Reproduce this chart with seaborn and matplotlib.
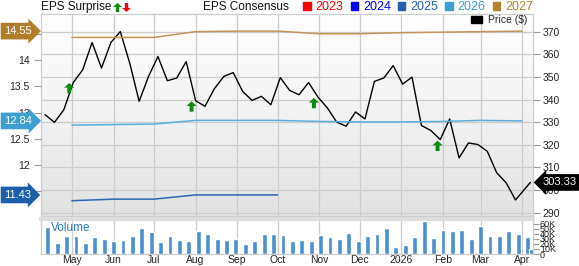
import numpy as np
import pandas as pd
import matplotlib
matplotlib.use("Agg")
import matplotlib.pyplot as plt
from matplotlib.path import Path
from matplotlib.lines import Line2D
from matplotlib.patches import Patch
from matplotlib.colors import LinearSegmentedColormap
import seaborn as sns

# ---------------- data ----------------
price_dates = list(pd.date_range("2025-04-11", periods=51, freq="7D")) + [pd.Timestamp("2026-04-07")]
prices = [333.3, 329.9, 335.5, 347.5, 353.1, 365.2, 353.9, 365.2, 370.0, 356.1,
          339.2, 350.2, 359.0, 348.3, 349.5, 356.8, 339.5, 337.0, 344.8, 350.2,
          351.9, 343.6, 339.6, 341.4, 337.7, 349.7, 344.0, 342.1, 347.5, 341.1,
          336.3, 330.0, 328.2, 334.5, 331.4, 348.0, 349.5, 355.0, 346.8, 349.9,
          328.5, 326.3, 322.3, 331.4, 314.2, 320.8, 320.1, 317.1, 307.6, 303.2,
          295.6, 303.33]

volume_dates = list(pd.date_range("2025-04-13", periods=52, freq="7D")) + [pd.Timestamp("2026-04-08")]
volumes_k = [53.6, 22.4, 36.4, 35.0, 21.0, 33.6, 29.0, 25.0, 27.0, 36.4, 51.6, 43.6,
             24.4, 35.6, 27.6, 25.6, 44.4, 39.0, 30.4, 27.0, 30.4, 20.4, 26.4, 40.4,
             39.0, 37.0, 26.4, 28.4, 26.4, 38.4, 33.0, 29.6, 41.6, 25.6, 35.6, 39.0,
             51.0, 13.0, 17.0, 34.4, 65.6, 32.4, 47.0,
             45.6, 47.6, 30.4, 55.6, 35.0, 35.0, 45.0, 40.4, 34.4, 10.4]

eps_dates = pd.date_range("2025-05-01", periods=12, freq="MS")
eps_2027 = [14.43, 14.43, 14.43, 14.54, 14.55, 14.55, 14.50, 14.50, 14.52, 14.53, 14.54, 14.55]
eps_2026 = [12.76, 12.77, 12.78, 12.85, 12.85, 12.85, 12.83, 12.82, 12.82, 12.83, 12.85, 12.84]
eps_2025 = [11.32, 11.35, 11.35, 11.43, 11.43, 11.43]

surprise_dates = pd.to_datetime(["2025-04-29", "2025-07-29", "2025-10-28", "2026-01-28"])
surprise_y = [345.0, 336.9, 338.4, 319.5]

month_ticks = pd.date_range("2025-05-01", periods=12, freq="MS")
month_labels = ["May", "Jun", "Jul", "Aug", "Sep", "Oct", "Nov", "Dec", "2026", "Feb", "Mar", "Apr"]

price_ticks = [290, 300, 310, 320, 330, 340, 350, 360, 370]
eps_ticks = [11.5, 12, 12.5, 13, 13.5, 14, 14.5]
eps_tick_labels = ["", "12", "12.5", "13", "13.5", "14", ""]
vol_ticks = [0, 10, 20, 30, 40, 50, 60]

year_labels = ["2023", "2024", "2025", "2026", "2027"]
year_colors = ["#ff0000", "#0000ff", "#1f5fae", "#3aa0d2", "#b5832f"]

# ---------------- style ----------------
sns.set_theme(style="white")
plt.rcParams["font.family"] = ["Liberation Sans", "DejaVu Sans"]

W, H = 579, 266
fig = plt.figure(figsize=(W / 100, H / 100), dpi=100)

def fx(px):
    return px / W

def fy(py):
    return 1 - py / H

L, R = 41, 533
ax = fig.add_axes([fx(L), fy(216), fx(R - L), (216 - 14) / H])
axv = fig.add_axes([fx(L), fy(254), fx(R - L), (254 - 219) / H], sharex=ax)
ax_eps = ax.twinx()

xmin, xmax = pd.Timestamp("2025-04-08"), pd.Timestamp("2026-04-09")
grid_c = "#cccccc"

# gradient background
cmap = LinearSegmentedColormap.from_list("bg", ["#e2e2e2", "#f2f2f2", "#ffffff"])
grad = np.linspace(0, 1, 256).reshape(-1, 1)
ax.imshow(grad, extent=[0, 1, 1, 0], transform=ax.transAxes, aspect="auto",
          cmap=cmap, zorder=0, interpolation="bicubic")

# price line
sns.lineplot(x=price_dates, y=prices, ax=ax, color="black", linewidth=1.0, zorder=5, legend=False)

# surprise arrows
arrow_verts = [(-1, 0.1), (0, 1), (1, 0.1), (0.38, 0.1), (0.38, -1), (-0.38, -1), (-0.38, 0.1), (-1, 0.1)]
arrow_up = Path(arrow_verts, [Path.MOVETO] + [Path.LINETO] * 6 + [Path.CLOSEPOLY])
arrow_down = Path([(x, -y) for x, y in arrow_verts], [Path.MOVETO] + [Path.LINETO] * 6 + [Path.CLOSEPOLY])
sns.scatterplot(x=surprise_dates, y=surprise_y, ax=ax, marker=arrow_up, s=55,
                color="#0b8a0b", edgecolor="none", zorder=6, legend=False)

ax.set_xlim(xmin, xmax)
ax.set_ylim(288.5, 377.8)
ax.yaxis.tick_right()
ax.set_yticks(price_ticks)
ax.set_yticklabels([str(t) for t in price_ticks])
ax.set_xticks(month_ticks)
ax.tick_params(axis="x", labelbottom=False, length=0)
ax.tick_params(axis="y", which="both", right=True, left=False, length=5, width=0.8,
               color="#999999", labelsize=7.5, labelcolor="#222222", pad=2)
ax.grid(True, color=grid_c, linewidth=0.9)
ax.set_axisbelow(True)
for s in ax.spines.values():
    s.set_color(grid_c)
    s.set_linewidth(0.9)
ax.set_xlabel("")
ax.set_ylabel("")

# EPS consensus lines
sns.lineplot(x=eps_dates, y=eps_2027, ax=ax_eps, color="#c0955c", linewidth=1.1, legend=False)
sns.lineplot(x=eps_dates, y=eps_2026, ax=ax_eps, color="#5aaedb", linewidth=1.1, legend=False)
sns.lineplot(x=eps_dates[:len(eps_2025)], y=eps_2025, ax=ax_eps, color="#2a66b0", linewidth=1.1, legend=False)
ax_eps.set_ylim(11.029, 14.876)
ax_eps.yaxis.tick_left()
ax_eps.set_yticks(eps_ticks)
ax_eps.set_yticklabels(eps_tick_labels)
ax_eps.tick_params(axis="y", left=True, right=False, length=5, width=0.8,
                   color="#999999", labelsize=7.5, labelcolor="#222222", pad=3)
ax_eps.set_ylabel("")
for s in ax_eps.spines.values():
    s.set_visible(False)

# left value tags
for vals, col in [(eps_2027, "#b07d2b"), (eps_2026, "#3d9fd0"), (eps_2025, "#1b5faa")]:
    ax_eps.annotate(f"{vals[-1]:.2f}", xy=(fx(4), vals[-1]), xycoords=("figure fraction", "data"),
                    ha="left", va="center", color="white", fontsize=8,
                    bbox=dict(boxstyle="rarrow,pad=0.3", fc=col, ec="none"),
                    annotation_clip=False, zorder=20)

# right price tag
ax.annotate(f"{prices[-1]:.2f}", xy=(fx(543), prices[-1]), xycoords=("figure fraction", "data"),
            ha="left", va="center", color="white", fontsize=8,
            bbox=dict(boxstyle="larrow,pad=0.3", fc="black", ec="none"),
            annotation_clip=False, zorder=20)

# price legend
ax.legend(handles=[Patch(facecolor="black", edgecolor="black")], labels=["Price ($)"],
          loc="upper right", bbox_to_anchor=(fx(527), fy(15)), bbox_transform=fig.transFigure,
          frameon=False, fontsize=7.5, handlelength=1.1, handleheight=0.6, handletextpad=0.5,
          borderaxespad=0, borderpad=0)

# volume
axv.bar(volume_dates, volumes_k, width=3.6, color="#4a8fd0", zorder=3)
axv.set_ylim(0, 69)
axv.set_yticks(vol_ticks)
axv.set_yticklabels(["0"] + [f"{t}K" for t in vol_ticks[1:]])
axv.yaxis.tick_right()
axv.tick_params(axis="y", right=True, left=False, length=4, width=0.8, color="#999999",
                labelsize=6.5, labelcolor="#222222", pad=1)
axv.set_xticks(month_ticks)
axv.set_xticklabels(month_labels)
axv.tick_params(axis="x", length=0, labelsize=7.5, labelcolor="#222222", pad=1)
axv.set_xlim(xmin, xmax)
axv.grid(True, axis="x", color=grid_c, linewidth=0.9)
axv.set_axisbelow(True)
axv.set_facecolor("white")
for s in axv.spines.values():
    s.set_color(grid_c)
    s.set_linewidth(0.9)
axv.spines["top"].set_color("#dddddd")
axv.spines["top"].set_linewidth(3)
axv.text(0.02, 0.75, "Volume", transform=axv.transAxes, color="#2a77c0", fontsize=8.5,
         ha="left", va="center", zorder=5)

# header
fig.text(fx(41), fy(7), "EPS Surprise", fontsize=8.5, ha="left", va="center", color="#111111")
fig.add_artist(Line2D([fx(117)], [fy(7)], marker=arrow_up, markersize=6.5, color="#0b8a0b",
                      markeredgewidth=0, transform=fig.transFigure, linestyle="none"))
fig.add_artist(Line2D([fx(126)], [fy(7)], marker=arrow_down, markersize=6.5, color="#e01010",
                      markeredgewidth=0, transform=fig.transFigure, linestyle="none"))
fig.text(fx(203), fy(7), "EPS Consensus", fontsize=8.5, ha="left", va="center", color="#111111")

year_handles = [Patch(facecolor=c, edgecolor=c) for c in year_colors]
fig.legend(handles=year_handles, labels=year_labels, loc="center right",
           bbox_to_anchor=(fx(533), fy(7)), ncol=5, frameon=False, fontsize=9,
           handlelength=0.6, handleheight=0.6, handletextpad=0.4, columnspacing=0.55,
           labelcolor=year_colors, borderaxespad=0, borderpad=0)

fig.savefig("out.png", dpi=100)
